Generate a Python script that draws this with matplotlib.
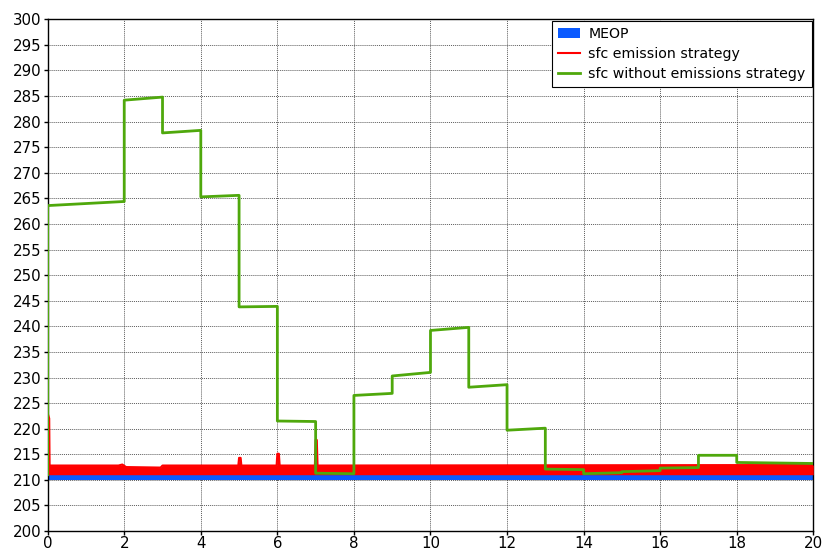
import numpy as np
import matplotlib
matplotlib.use("Agg")
import matplotlib.pyplot as plt

plt.rcParams['font.family'] = ['DejaVu Sans']

# step boundaries of the load profile (hours)
step_edges = [0, 2, 3, 4, 5, 6, 7, 8, 9, 10, 11, 12, 13, 14, 15, 16, 17, 18, 20]
# sfc without emissions strategy: value at start and end of each step
green_start = [263.6, 284.2, 277.8, 265.3, 243.8, 221.5, 211.3, 226.5, 230.3,
               239.2, 228.1, 219.7, 212.1, 211.2, 211.6, 212.3, 214.8, 213.4]
green_end = [264.4, 284.8, 278.3, 265.6, 243.9, 221.4, 211.2, 226.9, 231.0,
             239.8, 228.6, 220.1, 212.0, 211.4, 211.8, 212.4, 214.8, 213.2]
green_initial = 211.0

# sfc emission strategy: upper envelope of the oscillating signal
red_x = [0.0, 0.04, 0.05, 1.85, 1.95, 2.05, 2.95, 3.0, 4.98, 5.0, 5.04, 5.06,
         5.98, 6.0, 6.04, 6.06, 6.98, 7.0, 7.03, 7.05, 20.0]
red_top = [223.0, 222.0, 212.8, 212.8, 213.0, 212.5, 212.4, 212.8, 212.8, 214.3,
           214.3, 212.8, 212.8, 215.1, 215.1, 212.8, 212.8, 217.8, 217.8, 212.8, 212.9]
red_bottom = 211.0

# MEOP band
meop_x = [0, 20]
meop_low = 210.0
meop_high = 211.0

# build the sloped-step polyline
gx = [step_edges[0]]
gy = [green_initial]
for i in range(len(green_start)):
    gx += [step_edges[i], step_edges[i + 1]]
    gy += [green_start[i], green_end[i]]

fig = plt.figure(figsize=(8.22, 5.52), dpi=100)
ax = fig.add_axes([0.058, 0.038, 0.9314, 0.927])

ax.fill_between(meop_x, meop_low, meop_high, color='#0A5AFF', lw=0,
                label='MEOP', zorder=2)
ax.fill_between(red_x, red_bottom, red_top, color='#FF0000', lw=0, zorder=3)
ax.plot(red_x, red_top, color='#FF0000', lw=1.5, label='sfc emission strategy',
        zorder=3)
ax.plot(gx, gy, color='#4FA80C', lw=2.0, label='sfc without emissions strategy',
        zorder=4)

ax.set_xlim(0, 20)
ax.set_ylim(200, 300)
ax.set_xticks(np.arange(0, 21, 2))
ax.set_yticks(np.arange(200, 301, 5))
ax.tick_params(labelsize=10.8, length=3, width=1, pad=1.5, colors='black')
ax.tick_params(axis='x', pad=0.5)
ax.grid(True, color='#333333', linestyle=(0, (1, 1)), linewidth=0.7, alpha=0.8)
ax.set_axisbelow(True)
for sp in ax.spines.values():
    sp.set_linewidth(1.0)

leg = ax.legend(loc='upper right', fontsize=10.2, frameon=True, fancybox=False,
                edgecolor='black', framealpha=1, borderaxespad=0.1,
                handlelength=1.5, handletextpad=0.6, labelspacing=0.42,
                borderpad=0.45)
leg.get_frame().set_linewidth(0.8)

fig.savefig('out.png', dpi=100)
